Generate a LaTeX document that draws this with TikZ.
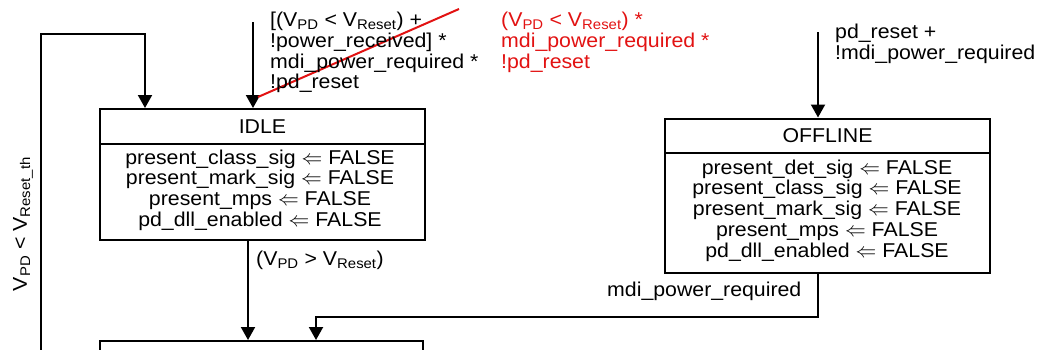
\documentclass[tikz,border=0pt]{standalone}
\usepackage{fontspec}
\setmainfont[FakeStretch=1.065]{Liberation Sans}
\usetikzlibrary{arrows.meta}
\definecolor{redtxt}{RGB}{226,18,18}
\newcommand\Vsub[1]{V\textsubscript{#1}}
\begin{document}
\begin{tikzpicture}[x=1pt,y=-1pt,
  every node/.style={font=\fontsize{20}{20.7}\selectfont, inner sep=0pt},
  box/.style={draw, line width=2pt, minimum width=325pt},
  conn/.style={line width=2pt, -{Triangle[width=14pt,length=13pt]}},
  plain/.style={line width=2pt},
  lbl/.style={align=left, anchor=north west},
  body/.style={align=center}]
\useasboundingbox (0,0) rectangle (1038,349);
\clip (0,0) rectangle (1038,349);

% IDLE
\node[box, minimum height=131pt] (idle) at (262.5,174.5) {};
\draw[plain] (idle.west |- 0,144) -- (idle.east |- 0,144);
\node (idleT) at (262.5,126.5) {IDLE};
\node[body] (idleB) at (260,190) {present\_class\_sig $\Leftarrow$ FALSE\\present\_mark\_sig $\Leftarrow$ FALSE\\present\_mps $\Leftarrow$ FALSE\\pd\_dll\_enabled $\Leftarrow$ FALSE};

% OFFLINE
\node[box, minimum height=154pt] (off) at (827.5,195.5) {};
\draw[plain] (off.west |- 0,153) -- (off.east |- 0,153);
\node (offT) at (827.5,135.5) {OFFLINE};
\node[body] (offB) at (827,210.5) {present\_det\_sig $\Leftarrow$ FALSE\\present\_class\_sig $\Leftarrow$ FALSE\\present\_mark\_sig $\Leftarrow$ FALSE\\present\_mps $\Leftarrow$ FALSE\\pd\_dll\_enabled $\Leftarrow$ FALSE};

% next state (cut off)
\node[box, minimum width=323pt, minimum height=60pt] (nxt) at (261.5,371) {};

% connectors
\coordinate (loopS) at (40.5,360);
\coordinate (loopT) at (145,34);
\draw[conn] (loopS) |- (loopT) -- (loopT |- idle.north);

\coordinate (inA) at (253,22);
\draw[conn] (inA) -- (inA |- idle.north);

\coordinate (s1) at (258,97);
\coordinate (s2) at (459,9);
\draw[redtxt, line width=2pt] (s1) -- (s2);

\draw[conn] (idle.south -| 248,0) -- (nxt.north -| 248,0);

\coordinate (inB) at (818,32);
\draw[conn] (inB) -- (inB |- off.north);
\draw[conn] (off.south -| 818,0) |- (316,317) -- (nxt.north -| 316,0);

% labels
\node[lbl] (lblA) at (270,12) {[(\Vsub{PD} < \Vsub{Reset}) +\\!power\_received] *\\mdi\_power\_required *\\!pd\_reset};
\node[lbl, text=redtxt] (lblR) at (501,12) {(\Vsub{PD} < \Vsub{Reset}) *\\mdi\_power\_required *\\!pd\_reset};
\node[lbl] (lblO) at (835,24) {pd\_reset +\\!mdi\_power\_required};
\node[lbl] (lblM) at (607,282) {mdi\_power\_required};
\node[lbl] (lblG) at (256,251) {(\Vsub{PD} > \Vsub{Reset})};
\node[rotate=90] (lblL) at (23,224) {\Vsub{PD} < \Vsub{Reset\_th}};
\end{tikzpicture}
\end{document}
